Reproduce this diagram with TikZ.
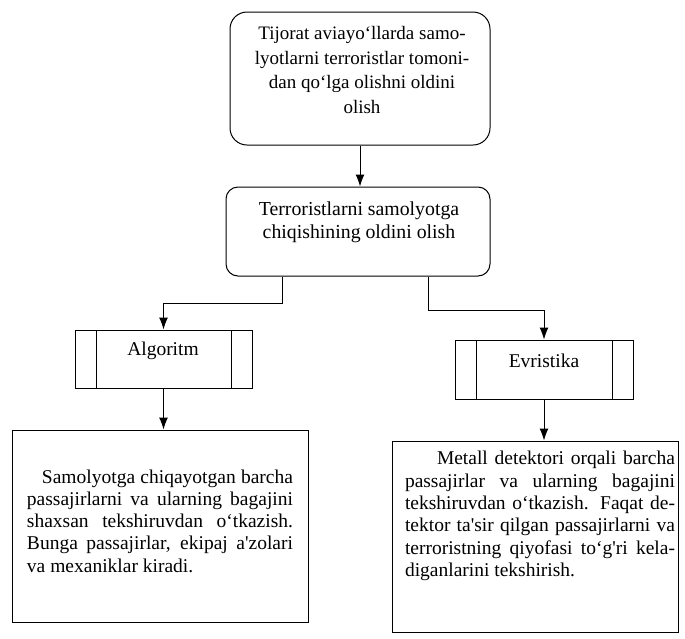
\documentclass[tikz,border=0pt]{standalone}
\usepackage{fontspec}
\setmainfont{Liberation Serif}
\usepackage{tikz}
\usetikzlibrary{arrows.meta,positioning,calc}
\newcommand{\boxfont}{\fontsize{19.5}{22.3}\selectfont}
\newcommand{\apos}{\textquotesingle}

\begin{document}
\begin{tikzpicture}[x=1pt,y=-1pt,line width=1pt,
  rbox/.style={draw,inner sep=0pt,rounded corners=#1},
  pbox/.style={draw,inner sep=0pt,
    path picture={\draw
      ([xshift=21pt]path picture bounding box.north west) --
      ([xshift=21pt]path picture bounding box.south west)
      ([xshift=-21pt]path picture bounding box.north east) --
      ([xshift=-21pt]path picture bounding box.south east);}},
  tbox/.style={draw,inner sep=0pt},
  htxt/.style={inner sep=0pt,align=center,font=\boxfont},
  ptxt/.style={inner sep=0pt,text width=#1,align=justify,font=\boxfont},
  arr/.style={-{Latex[length=12pt,width=9pt]}},
]
\useasboundingbox (0,0) rectangle (685,638);

% goal and first step
\node[rbox=17pt,minimum width=260pt,minimum height=133pt] (goal) at (360,78.5) {};
\node[htxt,font=\fontsize{19}{24.7}\selectfont] (goaltxt) at (362,70)
  {Tijorat aviayo‘llarda samo-\\lyotlarni terroristlar tomoni-\\
   dan qo‘lga olishni oldini\\olish};
\node[rbox=12pt,minimum width=264pt,minimum height=89pt] (prev) at (358,231.5) {};
\node[htxt,font=\fontsize{19.8}{23}\selectfont] (prevtxt) at (359,222)
  {Terroristlarni samolyotga\\chiqishining oldini olish};

% the two ways
\node[pbox,minimum width=177pt,minimum height=58pt] (algo) at (163.5,359) {};
\node[htxt] (algotxt) at (163,351) {Algoritm};
\node[pbox,minimum width=178pt,minimum height=59pt] (evri) at (544,369.5) {};
\node[htxt] (evritxt) at (544,361) {Evristika};

% what each way means
\node[tbox,minimum width=296pt,minimum height=192pt] (lbox) at (160,526) {};
\node[ptxt=266pt] (ltxt) at (160,521)
  {\hspace*{15pt}Samolyotga chiqayotgan barcha\linebreak
   passajirlarni va ularning bagajini\linebreak
   shaxsan tekshiruvdan o‘tkazish.\linebreak
   Bunga passajirlar, ekipaj a\apos zolari\linebreak
   va mexaniklar kiradi.};
\node[tbox,minimum width=286pt,minimum height=191pt] (rbx) at (535,536.5) {};
\node[ptxt=270pt] (rtxt) at (540,516)
  {\hspace*{32pt}Metall detektori orqali barcha\linebreak
   passajirlar va ularning bagajini\linebreak
   tekshiruvdan o‘tkazish. Faqat de-\linebreak
   tektor ta\apos sir qilgan passajirlarni va\linebreak
   terroristning qiyofasi to‘g\apos ri kela-\linebreak
   diganlarini tekshirish.};

% connectors
\draw[arr] (goal.south) -- (goal.south |- prev.north);
\draw[arr] ([xshift=57pt]prev.south west) -- ++(0,27) -| (algo.north);
\draw[arr] ([xshift=-62pt]prev.south east) -- ++(0,34) -| (evri.north);
\draw[arr] (algo.south) -- (algo.south |- lbox.north);
\draw[arr] (evri.south) -- (evri.south |- rbx.north);
\end{tikzpicture}
\end{document}
